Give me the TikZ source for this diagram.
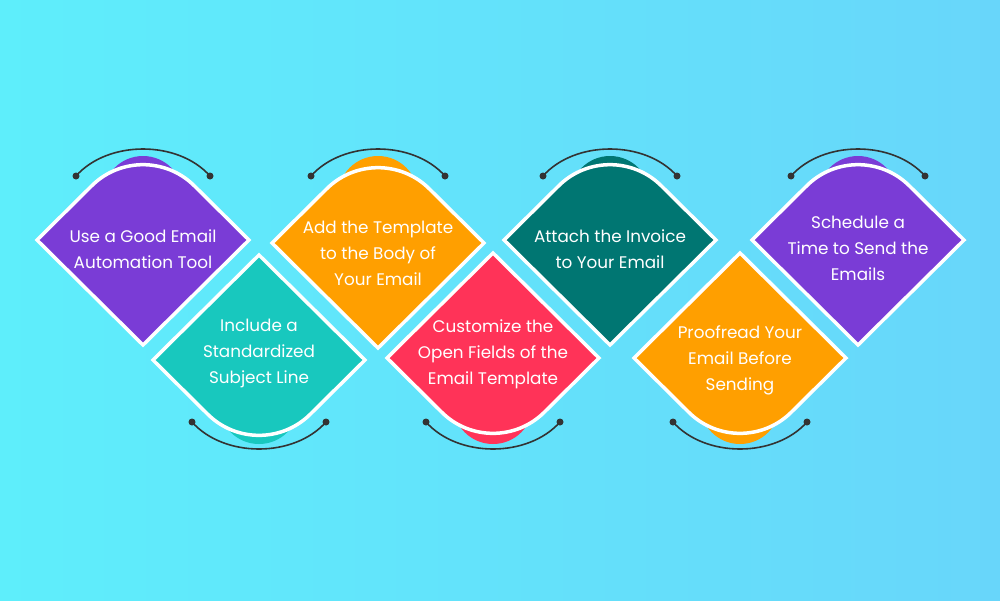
\documentclass[tikz,border=0pt]{standalone}
\usepackage{fontspec}
\setmainfont{Poppins}
\definecolor{cpur}{HTML}{7A3CD6}
\definecolor{cteal}{HTML}{18C8BE}
\definecolor{corg}{HTML}{FF9F00}
\definecolor{cred}{HTML}{FF3358}
\definecolor{cdk}{HTML}{007672}
\definecolor{bgl}{HTML}{5EEEFB}
\definecolor{bgr}{HTML}{68D6FA}
\definecolor{arcc}{HTML}{333333}
\tikzset{
  shp/.style={line width=3.5pt, draw=white, line join=miter},
  lbl/.style={text=white, align=center, font=\fontsize{16.8}{26}\selectfont},
  arcl/.style={draw=arcc, line width=1.6pt},
  dot/.style={circle, fill=arcc, inner sep=0pt, minimum size=7pt},
}
\newcommand\topshape[4]{% x, y, color, name
  \coordinate (#4a1) at (#1-67,176);
  \coordinate (#4a2) at (#1+67,176);
  \draw[arcl] (#4a1) .. controls (#1-35,140) and (#1+35,140) .. (#4a2);
  \node[dot] at (#4a1) {}; \node[dot] at (#4a2) {};
  \fill[#3] (#1,196) circle (40);
  \draw[shp, fill=#3] (#1-106,#2) [rounded corners=72] -- (#1,#2-105) [sharp corners] -- (#1+106,#2) -- (#1,#2+105) -- cycle;
}
\newcommand\botshape[4]{%
  \coordinate (#4a1) at (#1-67,422);
  \coordinate (#4a2) at (#1+67,422);
  \draw[arcl] (#4a1) .. controls (#1-35,458) and (#1+35,458) .. (#4a2);
  \node[dot] at (#4a1) {}; \node[dot] at (#4a2) {};
  \fill[#3] (#1,404) circle (40);
  \draw[shp, fill=#3] (#1-106,#2) -- (#1,#2-105) -- (#1+106,#2) [rounded corners=72] -- (#1,#2+105) [sharp corners] -- cycle;
}
\begin{document}
\begin{tikzpicture}[x=1pt,y=-1pt]
\shade[left color=bgl, right color=bgr] (0,0) rectangle (1000,600);
\useasboundingbox (0,0) rectangle (1000,600);
\topshape{143}{240}{cpur}{s1}
\topshape{378}{243}{corg}{s3}
\topshape{610}{240}{cdk}{s5}
\topshape{858}{240}{cpur}{s7}
\botshape{259}{360}{cteal}{s2}
\botshape{493}{358}{cred}{s4}
\botshape{740}{358}{corg}{s6}
\node[lbl] (t1) at (143,249) {Use a Good Email\\Automation Tool};
\node[lbl] (t3) at (378,253) {Add the Template\\to the Body of\\Your Email};
\node[lbl] (t5) at (610,249) {Attach the Invoice\\to Your Email};
\node[lbl] (t7) at (858,248) {Schedule a\\Time to Send the\\Emails};
\node[lbl] (t2) at (259,353) {Include a\\Standardized\\Subject Line};
\node[lbl] (t4) at (493,354) {Customize the\\Open Fields of the\\Email Template};
\node[lbl] (t6) at (740,360) {Proofread Your\\Email Before\\Sending};
\end{tikzpicture}
\end{document}
